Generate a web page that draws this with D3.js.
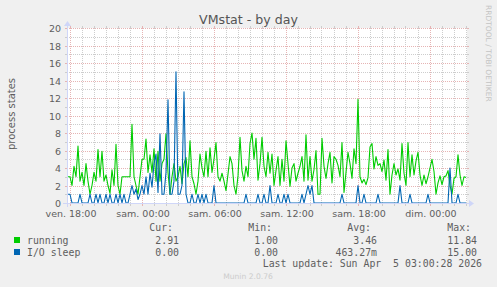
<!DOCTYPE html>
<html><head><meta charset="utf-8">
<script src="https://cdn.jsdelivr.net/npm/d3@7"></script>
<style>
html,body{margin:0;padding:0;background:#f0f0f0;}
svg{display:block;}
text{font-family:"DejaVu Sans",sans-serif;}
.mono{font-family:"DejaVu Sans Mono",monospace;white-space:pre;}
</style></head><body>
<svg id="c" width="497" height="287"></svg>
<script>
// ---------- data ----------
const titleText = "VMstat - by day";
const yAxisLabel = "process states";
const yTickValues = [0, 2, 4, 6, 8, 10, 12, 14, 16, 18, 20];
const yMinorValues = [1, 3, 5, 7, 9, 11, 13, 15, 17, 19];
const xTickLabels = ["ven. 18:00", "sam. 00:00", "sam. 06:00", "sam. 12:00", "sam. 18:00", "dim. 00:00"];
const xTickTimes = [
  Date.UTC(2026, 3, 3, 18), Date.UTC(2026, 3, 4, 0), Date.UTC(2026, 3, 4, 6),
  Date.UTC(2026, 3, 4, 12), Date.UTC(2026, 3, 4, 18), Date.UTC(2026, 3, 5, 0)
];
const rangeStart = Date.UTC(2026, 3, 3, 17, 47, 30);
const rangeEnd = Date.UTC(2026, 3, 5, 3, 7, 30);
const sampleMinutes = 10;

const seriesNames = ["running", "I/O sleep"];
const seriesColors = ["#00CC00", "#0066B3"];

const running = [
  3.0, 3.0, 2.0, 4.2, 3.0, 6.5, 2.5, 3.5, 2.0, 4.5,
  2.5, 1.0, 2.0, 3.5, 2.5, 6.1, 3.0, 5.9, 2.5, 3.2,
  2.0, 1.1, 3.8, 2.0, 6.7, 2.0, 1.0, 3.0, 3.0, 3.0,
  3.0, 3.0, 9.0, 3.0, 2.0, 1.0, 3.0, 5.0, 5.0, 7.3,
  3.5, 5.5, 3.5, 6.2, 2.5, 5.9, 2.5, 4.5, 5.0, 7.9,
  3.5, 1.0, 3.0, 4.5, 2.5, 3.0, 4.2, 2.2, 4.5, 5.2,
  3.0, 7.1, 3.0, 2.2, 1.0, 2.5, 5.6, 4.0, 3.0, 5.9,
  3.0, 6.3, 3.5, 5.0, 6.9, 3.0, 2.5, 3.4, 2.5, 1.4,
  3.3, 5.3, 4.5, 2.0, 1.0, 3.1, 7.5, 3.7, 2.5, 4.2,
  3.0, 6.8, 8.0, 5.0, 7.4, 2.6, 4.5, 7.5, 4.2, 3.0,
  5.8, 3.4, 5.6, 2.0, 3.7, 5.3, 2.0, 5.0, 2.5, 7.1,
  4.5, 1.9, 4.0, 4.5, 2.5, 3.4, 4.2, 5.3, 2.5, 7.8,
  2.6, 5.3, 2.5, 3.8, 6.0, 1.0, 1.0, 7.4, 4.2, 2.8,
  4.5, 5.8, 2.3, 5.3, 5.0, 4.3, 3.0, 6.9, 1.2, 3.5,
  5.8, 4.5, 2.8, 6.2, 4.5, 11.84, 3.0, 2.3, 2.7, 2.1,
  2.9, 6.4, 6.8, 3.9, 5.3, 4.3, 4.5, 3.6, 4.9, 2.6,
  6.1, 1.0, 3.2, 4.5, 3.2, 3.9, 2.6, 6.8, 3.4, 2.0,
  6.9, 3.0, 5.5, 3.2, 4.8, 5.8, 3.2, 2.0, 3.2, 2.2,
  3.0, 4.0, 5.0, 3.6, 1.0, 2.3, 3.1, 2.1, 3.0, 3.1,
  3.7, 2.0, 1.0, 2.8, 3.0, 5.5, 3.2, 2.0, 3.0, 2.91
];
const ioSleep = [
  1, 1, 0, 0, 0, 0, 1, 0, 0, 0,
  0, 1, 0, 0, 1, 0, 1, 0, 0, 1,
  0, 1, 0, 0, 1, 0, 1, 0, 1, 0,
  0, 1, 2, 1, 1.6, 0.4, 1, 2, 1, 3,
  1, 3.4, 1.8, 4.5, 5.6, 1.2, 7.9, 1, 1, 3.5,
  11.8, 1, 1, 2.5, 15, 1, 1, 2, 12.7, 1,
  0, 0, 1, 0, 0, 1, 0, 1, 0, 1,
  0, 0, 0, 2, 0, 0, 0, 0, 0, 0,
  0, 0, 0, 0, 0, 0, 0, 0, 0, 1,
  0, 0, 0, 0, 0, 1, 0, 0, 1, 0,
  0, 2, 0, 0, 0, 1, 0, 0, 1, 0,
  1, 0, 0, 0, 0, 0, 0, 1, 0, 1,
  2, 1, 2, 0, 0, 0, 0, 0, 0, 0,
  0, 0, 0, 0, 0, 0, 0, 1, 0, 0,
  0, 0, 0, 0, 0, 2, 0, 0, 1, 0,
  0, 0, 0, 0, 0, 1, 0, 0, 0, 0,
  0, 0, 0, 0, 0, 0, 2, 0, 0, 0,
  0, 1, 0, 0, 0, 0, 0, 0, 0, 0,
  1, 0, 0, 0, 0, 0, 0, 0, 0, 0,
  0, 4, 0, 0, 0, 1, 0, 0, 0, 0
];
const legendHeaders = ["Cur:", "Min:", "Avg:", "Max:"];
const curValues = ["2.91", "0.00"];
const minValues = ["1.00", "0.00"];
const avgValues = ["3.46", "463.27m"];
const maxValues = ["11.84", "15.00"];
const lastUpdate = "Last update: Sun Apr  5 03:00:28 2026";
const versionText = "Munin 2.0.76";
const watermarkText = "RRDTOOL / TOBI OETIKER";

// ---------- drawing ----------
const svg = d3.select("#c");
const X0 = 67, X1 = 467, Y0 = 203, Y1 = 28;
const fontCol = "#5e5e5e";

svg.append("rect").attr("width", 497).attr("height", 287).attr("fill", "#f0f0f0");
svg.append("rect").attr("x", X0).attr("y", Y1).attr("width", X1 - X0).attr("height", Y0 - Y1).attr("fill", "#ffffff");

const x = d3.scaleUtc().domain([new Date(rangeStart), new Date(rangeEnd)]).range([X0, X1]);
const y = d3.scaleLinear().domain([0, 20]).range([Y0, Y1]);

const minorCol = "#cdcdcd", majorCol = "#e6b4b4";
const grid = svg.append("g");
const ry = v => Math.round(y(v)) + 0.5;

const hours = d3.utcHour.range(new Date(rangeStart), new Date(rangeEnd));
hours.forEach(h => {
  const major = xTickTimes.includes(+h);
  const xx = Math.round(x(h)) + 0.5;
  const c = major ? majorCol : minorCol;
  grid.append("line").attr("x1", xx).attr("x2", xx).attr("y1", Y1).attr("y2", Y0)
    .attr("stroke", c).attr("stroke-dasharray", "1,1");
  grid.append("line").attr("x1", xx).attr("x2", xx).attr("y1", Y0).attr("y2", Y0 + 3).attr("stroke", c);
  grid.append("line").attr("x1", xx).attr("x2", xx).attr("y1", Y1 - 2).attr("y2", Y1).attr("stroke", c);
});
yMinorValues.forEach(v => {
  grid.append("line").attr("x1", X0).attr("x2", X1).attr("y1", ry(v)).attr("y2", ry(v))
    .attr("stroke", minorCol).attr("stroke-dasharray", "1,1");
  grid.append("line").attr("x1", X0 - 2).attr("x2", X0).attr("y1", ry(v)).attr("y2", ry(v)).attr("stroke", minorCol);
  grid.append("line").attr("x1", X1).attr("x2", X1 + 2).attr("y1", ry(v)).attr("y2", ry(v)).attr("stroke", minorCol);
});
yTickValues.forEach(v => {
  grid.append("line").attr("x1", X0).attr("x2", X1).attr("y1", ry(v)).attr("y2", ry(v))
    .attr("stroke", majorCol).attr("stroke-dasharray", "1,1");
  grid.append("line").attr("x1", X0 - 2).attr("x2", X0).attr("y1", ry(v)).attr("y2", ry(v)).attr("stroke", majorCol);
  grid.append("line").attr("x1", X1).attr("x2", X1 + 2).attr("y1", ry(v)).attr("y2", ry(v)).attr("stroke", majorCol);
});

// series lines
const sampleTime = i => new Date(rangeStart + (2 * i + 1) * (sampleMinutes / 2) * 60000);
const line = d3.line().x((d, i) => x(sampleTime(i))).y(d => y(d));
[running, ioSleep].forEach((s, k) => {
  svg.append("path").datum(s).attr("d", line).attr("fill", "none")
    .attr("stroke", seriesColors[k]).attr("stroke-width", 1.1).attr("stroke-linejoin", "round");
});

// axes lines + arrows
const axisCol = "#CFD6F8";
svg.append("line").attr("x1", X0 - 4).attr("x2", X1 + 4).attr("y1", Y0 + 0.5).attr("y2", Y0 + 0.5).attr("stroke", axisCol);
svg.append("line").attr("x1", X0 + 0.5).attr("x2", X0 + 0.5).attr("y1", Y0 + 4).attr("y2", Y1 - 4).attr("stroke", axisCol);
svg.append("path").attr("d", `M${X1 + 2},${Y0 - 3}L${X1 + 2},${Y0 + 4}L${X1 + 7},${Y0 + 0.5}Z`).attr("fill", axisCol);
svg.append("path").attr("d", `M${X0 - 3},${Y1 - 2}L${X0 + 4},${Y1 - 2}L${X0 + 0.5},${Y1 - 7}Z`).attr("fill", axisCol);

// axis labels via d3 axes
const gy = svg.append("g").attr("transform", `translate(${X0},0)`)
  .call(d3.axisLeft(y).tickValues(yTickValues).tickSize(0).tickPadding(6).tickFormat(d3.format("d")));
gy.select(".domain").remove();
gy.selectAll("text").attr("fill", fontCol).attr("font-family", "DejaVu Sans").attr("font-size", "9.5px").attr("dy", "0.37em");

const gx = svg.append("g").attr("transform", `translate(0,${Y0})`)
  .call(d3.axisBottom(x).tickValues(xTickTimes.map(t => new Date(t))).tickSize(0).tickPadding(6.8)
    .tickFormat((d, i) => xTickLabels[i]));
gx.select(".domain").remove();
gx.selectAll("text").attr("fill", fontCol).attr("font-family", "DejaVu Sans").attr("font-size", "9.5px").attr("dx", 1);

// title
svg.append("text").attr("x", 248.5).attr("y", 24.3).attr("text-anchor", "middle")
  .attr("font-size", "12.6px").attr("fill", "#555555").text(titleText);
// y axis label
svg.append("text").attr("transform", "translate(15,114) rotate(-90)").attr("text-anchor", "middle")
  .attr("font-size", "10px").attr("fill", fontCol).text(yAxisLabel);
// watermark
svg.append("text").attr("transform", "translate(485.5,5) rotate(90)").attr("text-anchor", "start")
  .attr("font-size", "7.5px").attr("fill", "#c4c4c4").text(watermarkText);

// legend
const lf = "9.85px";
const colEnds = [179, 278, 377, 477];
const cw = 5.93;
legendHeaders.forEach((h, k) => {
  svg.append("text").attr("class", "mono").attr("x", colEnds[k] - cw).attr("y", 231)
    .attr("text-anchor", "end").attr("font-size", lf).attr("fill", fontCol).text(h);
});
const cols = [curValues, minValues, avgValues, maxValues];
seriesNames.forEach((n, r) => {
  const by = 243.5 + r * 12;
  svg.append("rect").attr("x", 14).attr("y", by - 6.5).attr("width", 6).attr("height", 6).attr("fill", seriesColors[r]);
  svg.append("text").attr("class", "mono").attr("x", 27).attr("y", by).attr("font-size", lf).attr("fill", fontCol).text(n);
  cols.forEach((c, k) => {
    svg.append("text").attr("class", "mono").attr("x", colEnds[k]).attr("y", by)
      .attr("text-anchor", "end").attr("font-size", lf).attr("fill", fontCol).text(c[r]);
  });
});
svg.append("text").attr("class", "mono").attr("x", 482).attr("y", 267).attr("text-anchor", "end")
  .attr("font-size", lf).attr("fill", fontCol).text(lastUpdate);
svg.append("text").attr("x", 248).attr("y", 279).attr("text-anchor", "middle")
  .attr("font-size", "7.6px").attr("fill", "#cccccc").text(versionText);
</script>
</body></html>
